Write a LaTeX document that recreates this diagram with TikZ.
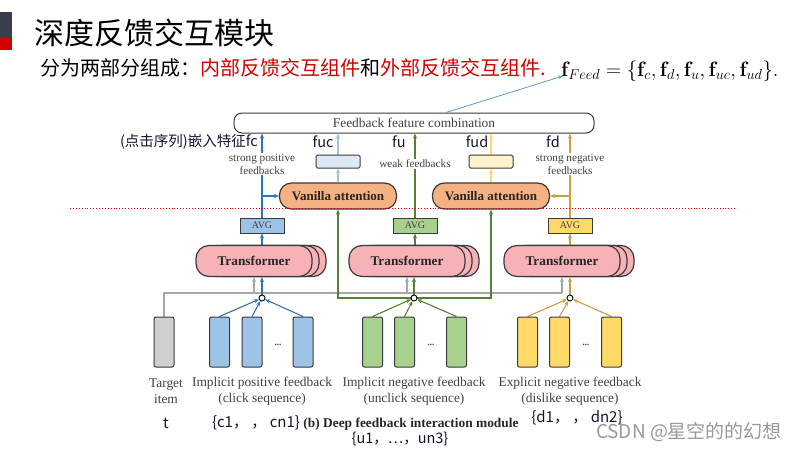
\documentclass[tikz,border=0pt]{standalone}
\usepackage[no-math]{fontspec}
\setmainfont{Liberation Serif}
\newfontfamily\cjk{Noto Sans CJK SC}
\usetikzlibrary{arrows.meta,calc}
\pgfdeclarelayer{bg}
\pgfsetlayers{bg,main}
\definecolor{cb}{RGB}{58,58,58}
\definecolor{ctext}{RGB}{64,64,64}
\definecolor{cnavy}{RGB}{20,20,50}
\definecolor{cdark}{RGB}{58,61,74}
\definecolor{cred}{RGB}{210,0,0}
\definecolor{cblue}{RGB}{46,117,182}
\definecolor{cbluefill}{RGB}{157,195,230}
\definecolor{cgreen}{RGB}{84,130,53}
\definecolor{cgreenfill}{RGB}{169,209,142}
\definecolor{cgold}{RGB}{201,160,60}
\definecolor{cgoldfill}{RGB}{255,217,102}
\definecolor{cgrey}{RGB}{166,166,166}
\definecolor{ctgt}{RGB}{208,206,206}
\definecolor{cpink}{RGB}{247,178,183}
\definecolor{corange}{RGB}{244,177,131}
\definecolor{clbfill}{RGB}{221,233,246}
\definecolor{clyfill}{RGB}{255,242,204}
\definecolor{clbline}{RGB}{157,195,230}
\definecolor{clyline}{RGB}{255,217,102}
\definecolor{cfarrow}{RGB}{91,155,213}
\tikzset{
  tip/.style={-{Stealth[length=5pt,width=4pt]}},
  bothtip/.style={{Stealth[length=5pt,width=4pt]}-{Stealth[length=5pt,width=4pt]}},
  ln/.style={line width=1.1pt},
  itembox/.style={draw=cb, line width=1pt, rounded corners=2pt, minimum width=20pt, minimum height=50pt, inner sep=0pt},
  avgbox/.style={draw=cb, line width=1pt, minimum width=44pt, minimum height=15pt, inner sep=0pt, font=\fontsize{10}{12}\selectfont, text=ctext},
  vabox/.style={draw=cb, line width=1.2pt, fill=corange, rounded corners=12pt, minimum width=117pt, minimum height=26pt, inner sep=0pt, font=\bfseries\fontsize{13}{15}\selectfont, text=black!85},
  tfbox/.style={draw=cb, line width=1.2pt, fill=cpink, rounded corners=13pt, minimum width=116pt, minimum height=31pt, inner sep=0pt, font=\bfseries\fontsize{13.3}{15}\selectfont, text=black!85},
  featbox/.style={draw=cb, line width=1pt, rounded corners=1.5pt, minimum width=44pt, minimum height=13pt, inner sep=0pt},
  lbl/.style={font=\fontsize{13.4}{16}\selectfont, text=ctext, align=center, inner sep=0pt},
  fblbl/.style={font=\fontsize{11.2}{13}\selectfont, text=ctext, fill=white, inner sep=1pt, align=center},
  cjklbl/.style={font=\cjk\fontsize{14.5}{16}\selectfont, text=cnavy, inner sep=0pt},
  dotnode/.style={circle, draw=black, fill=white, line width=0.9pt, inner sep=0pt, minimum size=6pt},
  dotstxt/.style={font=\bfseries\fontsize{9}{10}\selectfont, text=ctext, inner sep=0pt},
}
\begin{document}
\begin{tikzpicture}[x=1pt,y=-1pt]
\begin{pgfonlayer}{bg}
\fill[white] (0,0) rectangle (800,450);
\end{pgfonlayer}
\useasboundingbox (0,0) rectangle (800,450);
% left bar
\fill[cdark] (0,12) rectangle (12,37);
\fill[cred] (0,37) rectangle (12,50);
% title
\node[anchor=base west, font=\cjk\fontsize{30}{32}\selectfont, inner sep=0pt] (title) at (34,44) {深度反馈交互模块};
\node[anchor=base west, font=\cjk\fontsize{20}{22}\selectfont, inner sep=0pt] (sub) at (40,75) {分为两部分组成：\textcolor{cred}{内部反馈交互组件}和\textcolor{cred}{外部反馈交互组件.}};
\node[anchor=base west, font=\fontsize{19.5}{22}\selectfont, inner sep=0pt] (formula) at (561,76) {$\mathbf{f}_{Feed}=\{\mathbf{f}_c,\mathbf{f}_d,\mathbf{f}_u,\mathbf{f}_{uc},\mathbf{f}_{ud}\}.$};

% feedback combination
\node[draw=cb, line width=1pt, rounded corners=8pt, minimum width=360pt, minimum height=20pt, inner sep=0pt, text=ctext, font=\fontsize{13.4}{15}\selectfont, fill=white] (comb) at (414,123) {Feedback feature combination};
\draw[cfarrow, line width=0.8pt, tip] ($(comb.north)+(32,0)$) -- ($(formula.base west)+(2,0)$);

% vanilla attention
\node[vabox] (va1) at (338,196) {Vanilla attention};
\node[vabox] (va2) at (491,196) {Vanilla attention};
% feature boxes
\node[featbox, fill=clbfill] (fuc) at (338,161.5) {};
\node[featbox, fill=clyfill] (fud) at (491,161.5) {};
% AVG
\node[avgbox, fill=cbluefill] (avg1) at (262,225.5) {AVG};
\node[avgbox, fill=cgreenfill] (avg2) at (415,225.5) {AVG};
\node[avgbox, fill=cgoldfill] (avg3) at (570,225.5) {AVG};
% transformers
\foreach \c/\x in {t1/254, t2/407, t3/562} {
  \node[tfbox] (\c b) at (\x+14,261) {};
  \node[tfbox] (\c a) at (\x+7,261) {};
}
\node[tfbox] (t1) at (254,261) {Transformer};
\node[tfbox] (t2) at (407,261) {Transformer};
\node[tfbox] (t3) at (562,261) {Transformer};

% items
\node[itembox, fill=ctgt] (tgt) at (164,342) {};
\node[itembox, fill=cbluefill] (b1) at (219.5,342) {};
\node[itembox, fill=cbluefill] (b2) at (252,342) {};
\node[itembox, fill=cbluefill] (b3) at (303,342) {};
\node[itembox, fill=cgreenfill] (g1) at (372.5,342) {};
\node[itembox, fill=cgreenfill] (g2) at (404.5,342) {};
\node[itembox, fill=cgreenfill] (g3) at (456.5,342) {};
\node[itembox, fill=cgoldfill] (y1) at (527.5,342) {};
\node[itembox, fill=cgoldfill] (y2) at (559.5,342) {};
\node[itembox, fill=cgoldfill] (y3) at (611.5,342) {};
\node[dotstxt, anchor=base] (d1) at (278,345) {...};
\node[dotstxt, anchor=base] (d2) at (431,345) {...};
\node[dotstxt, anchor=base] (d3) at (586,345) {...};

% circles
\node[dotnode] (o1) at (262,298) {};
\node[dotnode] (o2) at (414,298) {};
\node[dotnode] (o3) at (570,298) {};

\begin{pgfonlayer}{bg}
% grey target lines
\coordinate (gl) at (164,293);
\draw[cgrey, ln] (tgt.north) -- (gl) -- (gl -| t3.south);
\foreach \c in {t1,t2,t3} \draw[cgrey, ln, tip] (gl -| \c.south) -- (\c.south);

% green bracket
\draw[cgreen, ln, bothtip] (va1.south) -- (va1.south |- o2) -- (va2.south |- o2) -- (va2.south);

% items to circles
\foreach \n in {b1,b2,b3} \draw[cblue, ln, tip] (\n.north) -- (o1);
\foreach \n in {g1,g2,g3} \draw[cgreen, ln, tip] (\n.north) -- (o2);
\foreach \n in {y1,y2,y3} \draw[cgold, ln, tip] (\n.north) -- (o3);
% circles to transformers
\draw[cblue, ln, tip] (o1) -- (o1 |- t1.south);
\draw[cgreen, ln, tip] (o2) -- (o2 |- t2.south);
\draw[cgold, ln, tip] (o3) -- (o3 |- t3.south);
% transformers to AVG
\draw[cblue, ln, tip] (avg1.south |- t1.north) -- (avg1.south);
\draw[cgreen, ln, tip] (avg2.south |- t2.north) -- (avg2.south);
\draw[cgold, ln, tip] (avg3.south |- t3.north) -- (avg3.south);
% AVG up to combination
\draw[cblue, ln, tip] (avg1.north) -- (avg1.north |- comb.south);
\draw[cgreen, ln, tip] (avg2.north) -- (avg2.north |- comb.south);
\draw[cgold, ln, tip] (avg3.north) -- (avg3.north |- comb.south);
\draw[cblue, ln, tip] (avg1.north |- va1.west) -- (va1.west);
\draw[cgold, ln, tip] (avg3.north |- va2.east) -- (va2.east);
% VA to feature boxes
\draw[clbline, ln, tip] (va1.north) -- (fuc.south);
\draw[clbline, ln, tip] (fuc.north) -- (fuc.north |- comb.south);
\draw[clyline, ln, tip] (va2.north) -- (fud.south);
\draw[clyline, ln, tip] (fud.north) -- (fud.north |- comb.south);
\end{pgfonlayer}

% line labels
\node[fblbl] (sp) at (262,164) {strong positive\\feedbacks};
\node[fblbl] (wf) at (415,164) {weak feedbacks};
\node[fblbl] (sn) at (570,164) {strong negative\\feedbacks};

% feature names
\node[cjklbl, anchor=east] (nfc) at (258,142) {(点击序列)嵌入特征fc};
\node[cjklbl] (nfuc) at (323,142) {fuc};
\node[cjklbl] (nfu) at (399,142) {fu};
\node[cjklbl] (nfud) at (477,142) {fud};
\node[cjklbl] (nfd) at (553,142) {fd};

% bottom labels
\node[lbl] (ltgt) at (166,391) {Target\\item};
\node[lbl] (lpos) at (262,391) {Implicit positive feedback\\(click sequence)};
\node[lbl] (lneg) at (414,391) {Implicit negative feedback\\(unclick sequence)};
\node[lbl] (ldis) at (570,391) {Explicit negative feedback\\(dislike sequence)};
\node[lbl, font=\bfseries\fontsize{13.4}{16}\selectfont, text=black!85] (cap) at (411,424) {(b) Deep feedback interaction module};
\node[cjklbl, font=\cjk\fontsize{15}{17}\selectfont] (st) at (166,423) {t};
\node[cjklbl, font=\cjk\fontsize{15}{17}\selectfont] (sc) at (256,423) {\{c1， ， cn1\}};
\node[cjklbl, font=\cjk\fontsize{14.5}{17}\selectfont] (su) at (400,439) {\{u1，…，un3\}};
\node[cjklbl, font=\cjk\fontsize{15}{17}\selectfont] (sd) at (577,418) {\{d1， ， dn2\}};
% watermark
\node[font=\cjk\fontsize{19}{21}\selectfont, text=black!40, inner sep=0pt] (wm) at (689,432) {CSDN @星空的的幻想};
% dotted red line
\draw[red!85!black, line width=0.9pt, dotted] (70,208) -- (737,208);
\end{tikzpicture}
\end{document}
